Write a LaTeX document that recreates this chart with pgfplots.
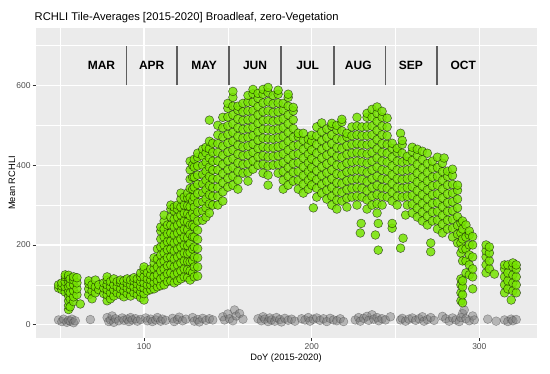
\documentclass[border=0pt]{standalone}
\usepackage{pgfplots}
\pgfplotsset{compat=1.18}
\usepackage{fontspec}
\setmainfont{Liberation Sans}
\definecolor{panelbg}{HTML}{EBEBEB}
\definecolor{ticklab}{HTML}{4D4D4D}
\definecolor{tickcol}{HTML}{333333}
\definecolor{ptgreen}{RGB}{118,228,0}
\definecolor{sepcol}{HTML}{5E5E5E}
\begin{document}
\begin{tikzpicture}
\useasboundingbox (0,0) rectangle (550pt,374pt);
\begin{axis}[
 at={(35.7pt,35.7pt)}, anchor=south west,
 scale only axis, width=501pt, height=310.3pt,
 xmin=35.4, xmax=334.2, ymin=-34, ymax=744,
 axis background/.style={fill=panelbg},
 axis line style={draw=none},
 grid=both,
 major grid style={white, line width=1.1pt},
 minor grid style={white, line width=0.55pt},
 xtick={100,200,300}, minor xtick={50,150,250},
 ytick={0,200,400,600}, minor ytick={100,300,500,700},
 tick pos=left, tick align=outside,
 major tick length=3pt, minor tick length=0pt,
 tick style={tickcol, line width=0.6pt},
 /pgf/number format/assume math mode=true,
 ticklabel style={font=\fontsize{8.5}{10}\selectfont, text=ticklab},
 every tick label/.append style={inner sep=2pt},
]
% gray (vegetation) points
\addplot[only marks, mark=*, mark size=4.4pt,
  mark options={fill=gray, draw=black!75, fill opacity=0.5, draw opacity=0.45, line width=0.5pt}]
 coordinates {
 (49,12)(51,8)(52,14)(54,6)(55,11)(56,9)(57,14)(58,5)(59,10)
 (68,13)
 (78,18)(79,8)(80,12)(81,22)(82,6)(83,15)(85,10)
 (87,17)(88,11)(90,14)(91,8)(92,18)(93,12)(95,15)(96,9)(98,13)
 (101,17)(102,10)(104,14)(105,8)(107,12)(108,18)(110,9)(111,14)(113,11)
 (117,16)(118,8)(120,13)(121,19)(123,10)(125,14)
 (129,18)(130,9)(132,13)(133,7)(135,16)(137,11)(139,15)(141,12)
 (147,20)(148,12)(150,27)(151,15)(153,10)(154,37)(155,22)(157,28)(159,14)
 (168,15)(170,10)(171,20)(172,14)(174,8)(175,17)(176,12)(178,9)(179,18)(181,13)(182,7)(184,16)(186,11)(188,14)(190,9)
 (194,15)(196,12)(198,18)(199,9)(201,14)(203,17)(205,11)(207,15)(209,8)(211,16)(213,12)(215,10)(217,15)(219,8)
 (226,12)(228,18)(229,9)(231,16)(233,21)(234,11)(236,25)(237,14)(239,18)(240,10)(242,15)(244,12)(247,20)
 (253,12)(254,16)(256,9)(258,14)(260,17)(262,11)(264,15)(266,20)(267,9)(269,13)(271,18)(273,11)
 (278,21)(280,15)(282,9)(284,17)(286,12)(288,8)(289,18)(290,28)(291,37)(292,15)(294,10)(296,22)(297,12)
 (305,14)(310,9)(315,12)(317,8)(319,14)(320,10)(322,13)
 };
% green (RCHLI) points
\addplot[only marks, mark=*, mark size=4.4pt,
  mark options={fill=ptgreen, draw=black, fill opacity=0.85, draw opacity=0.6, line width=0.5pt}]
 coordinates {
 (49,92)(49,100)
 (51,88)(51,97)(51,105)
 (53,82)(53,95)(53,108)(53,120)(53,125)
 (55,38)(55,48)(55,60)(55,72)(55,84)(55,96)(55,108)(55,118)(55,124)
 (56,45)(56,65)(56,80)(56,100)(56,115)
 (58,58)(58,70)(58,85)(58,100)(58,112)(58,120)
 (60,75)(60,90)(60,105)(60,118)
 (62,52)
 (67,75)(67,90)(67,103)(67,110)
 (69,65)(69,85)(69,100)
 (71,80)(71,95)(71,112)
 (73,88)(73,100)
 (76,78)(76,92)(76,105)
 (78,60)(78,75)(78,88)(78,100)(78,112)(78,120)
 (80,65)(80,80)(80,95)(80,108)
 (82,72)(82,88)(82,100)(82,115)
 (84,80)(84,95)(84,108)
 (86,75)(86,90)(86,105)(86,112)
 (88,70)(88,85)(88,98)(88,110)
 (90,78)(90,92)(90,105)(90,115)
 (92,72)(92,88)(92,100)(92,112)
 (94,80)(94,95)(94,110)(94,118)
 (96,75)(96,90)(96,102)(96,115)
 (98,68)(98,82)(98,95)(98,108)(98,120)(98,130)
 (100,62)(100,78)(100,92)(100,105)(100,120)(100,138)(100,145)
 (102,85)(102,100)(102,115)(102,130)
 (104,88)(104,100)(104,112)(104,125)(104,140)
 (106,90)(106,105)(106,120)(106,140)(106,155)(106,168)
 (108,95)(108,110)(108,125)(108,145)(108,165)(108,190)
 (110,98)(110,115)(110,135)(110,155)(110,175)(110,195)(110,215)(110,235)(110,245)
 (112,100)(112,120)(112,140)(112,160)(112,180)(112,200)(112,220)(112,240)(112,260)(112,275)
 (114,108)(114,128)(114,148)(114,168)(114,188)(114,208)(114,228)(114,250)
 (116,110)(116,130)(116,150)(116,170)(116,190)(116,210)(116,230)(116,250)(116,270)(116,290)(116,300)
 (118,105)(118,125)(118,145)(118,165)(118,185)(118,205)(118,225)(118,245)(118,265)(118,285)(118,295)
 (120,110)(120,130)(120,150)(120,170)(120,190)(120,210)(120,230)(120,250)(120,270)(120,290)(120,300)
 (122,115)(122,135)(122,155)(122,175)(122,195)(122,215)(122,235)(122,255)(122,275)(122,295)(122,315)(122,330)
 (124,120)(124,140)(124,160)(124,180)(124,200)(124,220)(124,240)(124,260)(124,280)(124,300)(124,320)
 (126,118)(126,138)(126,158)(126,178)(126,198)(126,218)(126,238)(126,258)(126,278)(126,298)(126,318)(126,330)
 (127.5,112)(127.5,135)(127.5,158)(127.5,181)(127.5,204)(127.5,227)(127.5,250)(127.5,273)(127.5,296)(127.5,319)(127.5,342)(127.5,365)(127.5,388)(127.5,410)
 (129,130)(129,160)(129,190)(129,220)(129,250)(129,280)(129,310)(129,340)(129,370)(129,400)
 (130,120)(130,145)(130,170)(130,195)(130,220)(130,245)(130,270)(130,295)(130,320)(130,345)(130,370)(130,395)(130,415)
 (132,122)(132,145)(132,168)(132,191)(132,214)(132,237)(132,260)(132,283)(132,306)(132,329)(132,352)(132,375)(132,398)(132,420)(132,430)
 (135,262)(135,285)(135,308)(135,331)(135,354)(135,377)(135,400)(135,423)(135,440)
 (137,270)(137,293)(137,316)(137,339)(137,362)(137,385)(137,408)(137,431)(137,445)
 (139,280)(139,303)(139,326)(139,349)(139,372)(139,395)(139,418)(139,441)(139,460)(139,513)
 (141,300)(141,322)(141,344)(141,366)(141,388)(141,410)(141,432)(141,455)
 (144,300)(144,322)(144,344)(144,366)(144,388)(144,410)(144,432)(144,454)(144,476)(144,500)
 (147,310)(147,333)(147,356)(147,379)(147,402)(147,425)(147,448)(147,471)(147,494)(147,520)
 (150,345)(150,367)(150,389)(150,411)(150,433)(150,455)(150,477)(150,499)(150,521)(150,543)(150,555)
 (153,350)(153,372)(153,394)(153,416)(153,438)(153,460)(153,482)(153,504)(153,526)(153,548)(153,570)(153,585)
 (156,340)(156,362)(156,384)(156,406)(156,428)(156,450)(156,472)(156,494)(156,516)(156,538)(156,548)
 (159,380)(159,402)(159,424)(159,446)(159,468)(159,490)(159,512)(159,534)(159,555)
 (162,360)(162,382)(162,404)(162,426)(162,448)(162,470)(162,492)(162,514)(162,536)(162,558)(162,575)
 (165,390)(165,411)(165,432)(165,453)(165,474)(165,495)(165,516)(165,537)(165,558)(165,579)(165,590)
 (168,400)(168,421)(168,442)(168,463)(168,484)(168,505)(168,526)(168,547)(168,568)(168,580)
 (171,380)(171,402)(171,424)(171,446)(171,468)(171,490)(171,512)(171,534)(171,556)(171,578)(171,590)
 (174,350)(174,375)(174,398)(174,421)(174,444)(174,467)(174,490)(174,513)(174,536)(174,559)(174,582)(174,595)
 (177,400)(177,422)(177,444)(177,466)(177,488)(177,510)(177,532)(177,554)(177,575)
 (180,380)(180,402)(180,424)(180,446)(180,468)(180,490)(180,512)(180,534)(180,556)(180,578)(180,588)
 (183,340)(183,362)(183,384)(183,406)(183,428)(183,450)(183,472)(183,494)(183,516)(183,538)(183,555)
 (186,350)(186,372)(186,394)(186,416)(186,438)(186,460)(186,482)(186,504)(186,526)(186,548)(186,570)(186,578)
 (189,360)(189,382)(189,404)(189,426)(189,448)(189,470)(189,492)(189,514)(189,536)(189,545)
 (192,340)(192,362)(192,384)(192,406)(192,428)(192,450)(192,472)(192,480)
 (195,330)(195,352)(195,374)(195,396)(195,418)(195,440)(195,462)(195,480)
 (198,340)(198,362)(198,384)(198,406)(198,428)(198,450)(198,465)
 (200,350)(200,372)(200,394)(200,416)(200,438)(200,460)(200,475)
 (201,293)
 (203,320)(203,342)(203,364)(203,386)(203,408)(203,430)(203,452)(203,474)(203,496)
 (206,330)(206,352)(206,374)(206,396)(206,418)(206,440)(206,462)(206,484)(206,506)
 (209,315)(209,337)(209,359)(209,381)(209,403)(209,425)(209,447)(209,469)(209,491)
 (212,300)(212,322)(212,344)(212,366)(212,388)(212,410)(212,432)(212,454)(212,476)(212,498)(212,505)
 (215,290)(215,312)(215,334)(215,356)(215,378)(215,400)(215,422)(215,444)(215,466)(215,488)(215,500)
 (218,310)(218,332)(218,354)(218,376)(218,398)(218,420)(218,442)(218,464)(218,486)(218,508)(218,515)
 (221,295)(221,317)(221,339)(221,361)(221,383)(221,405)(221,427)(221,449)(221,471)(221,480)
 (224,320)(224,342)(224,364)(224,386)(224,408)(224,430)(224,452)(224,474)(224,496)
 (227,300)(227,322)(227,344)(227,366)(227,388)(227,410)(227,432)(227,454)(227,476)(227,498)(227,520)
 (229,230)(229.5,254)
 (230,320)(230,342)(230,364)(230,386)(230,408)(230,430)(230,452)(230,474)(230,496)
 (233,290)(233,313)(233,336)(233,359)(233,382)(233,405)(233,428)(233,451)(233,474)(233,497)(233,520)(233,530)
 (236,300)(236,322)(236,344)(236,366)(236,388)(236,410)(236,432)(236,454)(236,476)(236,498)(236,520)(236,540)
 (238,225)(239.7,187)(239.7,254)
 (239,280)(239,303)(239,326)(239,349)(239,372)(239,395)(239,418)(239,441)(239,464)(239,487)(239,510)(239,530)(239,546)
 (242,300)(242,322)(242,344)(242,366)(242,388)(242,410)(242,432)(242,454)(242,476)(242,498)(242,520)(242,535)
 (245,320)(245,342)(245,364)(245,386)(245,408)(245,430)(245,452)(245,474)(245,496)(245,518)
 (248,242)(248,254)
 (248,310)(248,332)(248,354)(248,376)(248,398)(248,420)(248,442)(248,455)
 (251,300)(251,322)(251,344)(251,366)(251,388)(251,410)(251,432)(251,442)
 (253,192)(253,480)(254.5,217)(256,275)
 (254,320)(254,342)(254,364)(254,386)(254,408)(254,430)(254,452)(254,462)
 (257,300)(257,322)(257,344)(257,366)(257,388)(257,410)(257,422)
 (260,280)(260,302)(260,324)(260,346)(260,368)(260,390)(260,412)(260,434)(260,445)
 (263,270)(263,292)(263,314)(263,336)(263,358)(263,380)(263,402)(263,424)(263,440)
 (266,260)(266,282)(266,304)(266,326)(266,348)(266,370)(266,392)(266,414)(266,435)
 (269,250)(269,272)(269,294)(269,316)(269,338)(269,360)(269,382)(269,404)(269,430)
 (271,183)(271,205)
 (272,260)(272,282)(272,304)(272,326)(272,348)(272,370)(272,392)(272,410)
 (275,240)(275,262)(275,284)(275,306)(275,328)(275,350)(275,372)(275,394)(275,420)
 (278,230)(278,252)(278,274)(278,296)(278,318)(278,340)(278,362)(278,384)(278,405)
 (279,418)
 (281,240)(281,262)(281,284)(281,306)(281,328)(281,350)(281,372)(281,385)
 (284,220)(284,242)(284,264)(284,286)(284,308)(284,330)(284,352)(284,374)(284,390)
 (287,205)(287,227)(287,249)(287,271)(287,293)(287,315)(287,337)(287,350)
 (289,60)(289,80)(289,100)(289,115)(289,180)(289,205)(289,230)(289,255)
 (290,55)(290,75)(290,95)(290,110)(290,160)(290,190)(290,215)(290,240)(290,260)
 (292,130)(292,160)(292,190)(292,220)(292,250)
 (294,125)(294,150)(294,175)(294,200)(294,225)(294,235)
 (296,90)(296,120)(296,140)(296,170)(296,200)(296,221)
 (304,130)(304,150)(304,170)(304,185)(304,200)
 (306,140)(306,160)(306,180)(306,195)
 (309,127)
 (315,80)(315,100)(315,120)(315,140)(315,150)
 (317,90)(317,110)(317,130)(317,150)
 (319,62)
 (320,85)(320,105)(320,125)(320,145)(320,155)
 (322,80)(322,100)(322,120)(322,140)(322,150)
 };
% month separators
\pgfplotsinvokeforeach{89.5,119.7,150.8,181.8,213.2,244.2,274.7}{
 \addplot[sepcol, line width=1.4pt, no marks] coordinates {(#1,600) (#1,700)};
}
\begin{scope}[every node/.style={font=\bfseries\fontsize{12}{14}\selectfont}]
\node at (axis cs:74.6,650) {MAR};
\node at (axis cs:104.6,650) {APR};
\node at (axis cs:135.8,650) {MAY};
\node at (axis cs:166.2,650) {JUN};
\node at (axis cs:197.6,650) {JUL};
\node at (axis cs:227.8,650) {AUG};
\node at (axis cs:259.2,650) {SEP};
\node at (axis cs:290.4,650) {OCT};
\end{scope}
\end{axis}
\node[anchor=base west, font=\fontsize{11.2}{13}\selectfont, inner sep=0pt] at (34.5pt,353pt) {RCHLI Tile-Averages [2015-2020] Broadleaf, zero-Vegetation};
\node[font=\fontsize{9.3}{11}\selectfont, inner sep=0pt] at (286pt,16pt) {DoY (2015-2020)};
\node[font=\fontsize{9.3}{11}\selectfont, inner sep=0pt, rotate=90] at (12pt,191pt) {Mean RCHLI};
\end{tikzpicture}
\end{document}
